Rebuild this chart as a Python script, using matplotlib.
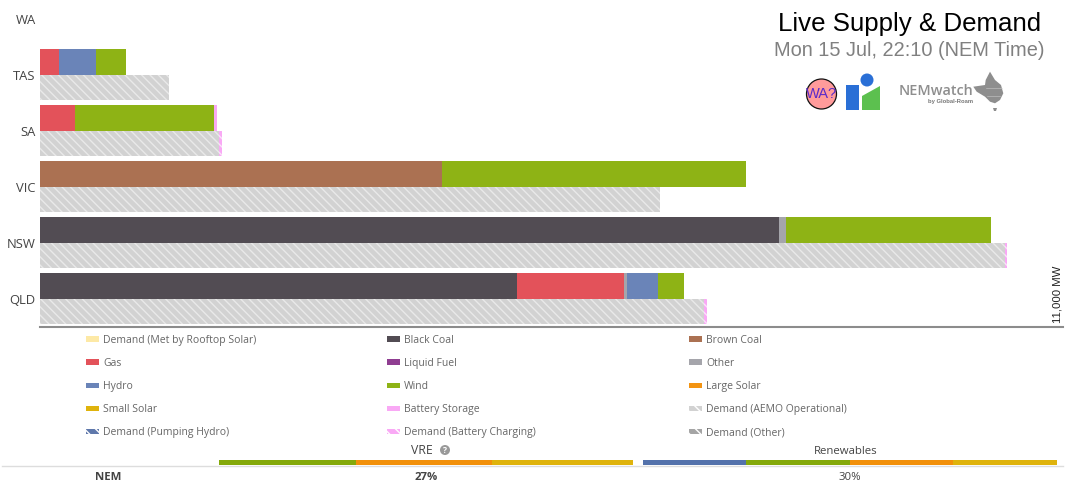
import matplotlib
matplotlib.use("Agg")
import matplotlib.pyplot as plt
from matplotlib.patches import Patch, Rectangle, Circle, Polygon

W, H = 1071, 492
plt.rcParams['font.family'] = ['Open Sans', 'DejaVu Sans']
plt.rcParams['hatch.linewidth'] = 1.0

regions = ['QLD', 'NSW', 'VIC', 'SA', 'TAS', 'WA']
black_coal = [5130, 7950, 0, 0, 0, 0]
brown_coal = [0, 0, 4323, 0, 0, 0]
gas = [1150, 0, 0, 376, 204, 0]
other = [32, 75, 0, 0, 0, 0]
hydro = [333, 0, 0, 0, 398, 0]
wind = [280, 2204, 3269, 1495, 323, 0]
battery = [0, 0, 0, 32, 0, 0]
demand_operational = [7140, 10376, 6667, 1925, 1387, 0]
demand_charging = [32, 22, 0, 32, 0, 0]

COL = {
    'rooftop': '#fde9a6', 'black': '#524c53', 'brown': '#ab7152', 'gas': '#e3525a',
    'liquid': '#8f3d91', 'other': '#a5a5ab', 'hydro': '#6a84b8', 'wind': '#8eb315',
    'lsolar': '#f39412', 'ssolar': '#dfb30c', 'battery': '#f9a9f5', 'demand': '#d2d2d2',
    'pump': '#5f78ab', 'charge': '#f9a9f5', 'dother': '#a5a5a5',
}

fig = plt.figure(figsize=(W / 100, H / 100), dpi=100, facecolor='white')
def px_axes(x0, x1, y_top, y_bot, **kw):
    return fig.add_axes([x0 / W, 1 - y_bot / H, (x1 - x0) / W, (y_bot - y_top) / H], **kw)

ax = px_axes(40, 1063, 0, 327)
ax.set_xlim(0, 11000)
ax.set_ylim(-0.5, 327 / 56 - 0.5)
h = 25.5 / 56
nudge = 0.5 / 56
y_sup = [i + h / 2 + nudge for i in range(6)]
y_dem = [i - h / 2 + nudge for i in range(6)]

left = [0] * 6
for vals, key in [(black_coal, 'black'), (brown_coal, 'brown'), (gas, 'gas'), (other, 'other'),
                  (hydro, 'hydro'), (wind, 'wind'), (battery, 'battery')]:
    ax.barh(y_sup, vals, height=h, left=left, color=COL[key], linewidth=0)
    left = [a + b for a, b in zip(left, vals)]

ax.barh(y_dem, demand_operational, height=h, color=COL['demand'], edgecolor='#e9e9e9',
        hatch='\\\\\\\\', linewidth=0)
ax.barh(y_dem, demand_charging, height=h, left=demand_operational, color=COL['charge'],
        edgecolor='#fbe3fa', hatch='\\\\\\\\', linewidth=0)

ax.set_yticks(range(6), regions, fontsize=9.4, color='#444444')
ax.set_xticks([])
ax.tick_params(axis='y', length=0, pad=3)
for s in ['top', 'right', 'left']:
    ax.spines[s].set_visible(False)
ax.spines['bottom'].set_color('#8c8c8c')
ax.spines['bottom'].set_linewidth(1.5)
ax.patch.set_alpha(0)
ax.text(1, 0.012, '11,000 MW', transform=ax.transAxes, rotation=90, ha='right', va='bottom',
        fontsize=8.2, color='#222222', family=['Liberation Sans'])

# overlay in picture pixels for titles, logos and the summary strip
ov = px_axes(0, W, 0, H)
ov.set_xlim(0, W)
ov.set_ylim(H, 0)
ov.axis('off')
ov.patch.set_alpha(0)

ov.text(909.5, 24.5, 'Live Supply & Demand', ha='center', va='center', fontsize=18.6,
        family=['Liberation Sans'], color='#000000')
ov.text(909.5, 50, 'Mon 15 Jul, 22:10 (NEM Time)', ha='center', va='center', fontsize=14.4,
        family=['Liberation Sans'], color='#808080')

# logos
ov.add_patch(Circle((821.5, 94), 15, fc='#ff9b9b', ec='#111111', lw=0.9))
ov.text(821.5, 94, 'WA?', ha='center', va='center', fontsize=10.5, color='#5a2bc9', family=['Liberation Sans'])
ov.add_patch(Rectangle((846, 85), 13, 25, fc='#2a6fd6', lw=0))
ov.add_patch(Circle((867, 80), 6.5, fc='#2a6fd6', lw=0))
ov.add_patch(Polygon([(862, 110), (862, 96), (880, 86), (880, 110)], fc='#5cc04f', lw=0))
ov.text(899, 91, 'NEMwatch', ha='left', va='center', fontsize=10.4, color='#8e8e8e',
        fontweight='semibold', stretch='condensed')
ov.text(950.5, 102, 'by Global-Roam', ha='center', va='center', fontsize=4.2, color='#777777',
        family=['Liberation Sans'], fontweight='bold')
ov.add_patch(Polygon([(973.3, 86.7), (985, 85), (985.7, 80), (990, 71.7), (995, 80), (1001, 85),
                      (1003.3, 93.3), (1000, 100), (995, 103.3), (990, 101.7), (985, 96.7),
                      (976.7, 91.7)], fc='#8e8e8e', lw=0))
ov.plot([986, 1002], [88, 88], color='#c8c8c8', lw=0.4)
ov.plot([987, 1000], [96, 96], color='#c8c8c8', lw=0.4)
ov.add_patch(Polygon([(993, 108), (997, 108), (996, 111), (994, 111)], fc='#8e8e8e', lw=0))

# legend, three columns
legend_cols = [
    (['Demand (Met by Rooftop Solar)', 'Gas', 'Hydro', 'Small Solar', 'Demand (Pumping Hydro)'],
     ['rooftop', 'gas', 'hydro', 'ssolar', 'pump'], 86),
    (['Black Coal', 'Liquid Fuel', 'Wind', 'Battery Storage', 'Demand (Battery Charging)'],
     ['black', 'liquid', 'wind', 'battery', 'charge'], 387),
    (['Brown Coal', 'Other', 'Large Solar', 'Demand (AEMO Operational)', 'Demand (Other)'],
     ['brown', 'other', 'lsolar', 'demand', 'dother'], 689),
]
hatched = {'pump', 'charge', 'demand', 'dother'}
fs = 7.45
fpx = fs * 100 / 72
for labels, keys, x in legend_cols:
    handles = []
    for lab, k in zip(labels, keys):
        handles.append(Patch(fc=COL[k], ec='white' if k in hatched else COL[k], lw=0,
                             hatch='\\\\\\' if k in hatched else None, label=lab))
    leg = ov.legend(handles=handles, loc='upper left', bbox_to_anchor=(x, 334.7),
                    bbox_transform=ov.transData, frameon=False, fontsize=fs, ncol=1,
                    borderaxespad=0, borderpad=0, handlelength=13 / fpx, handleheight=0.45,
                    handletextpad=4 / fpx, labelspacing=(22.5 - fpx) / fpx, labelcolor='#666666')
    ov.add_artist(leg)
    ov.legend_ = None

# summary strip
vre_segments = [137, 136, 141]
vre_keys = ['wind', 'lsolar', 'ssolar']
ren_segments = [103, 104, 103, 104]
ren_keys = ['pump', 'wind', 'lsolar', 'ssolar']
ov.plot([2, 1063], [466, 466], color='#dddddd', lw=1)
for segs, keys, x0 in [(vre_segments, vre_keys, 219), (ren_segments, ren_keys, 643)]:
    x = x0
    for s, k in zip(segs, keys):
        c = {'wind': '#84a90a', 'lsolar': '#f2900a', 'ssolar': '#dfb30c', 'pump': '#5472ab'}[k]
        ov.add_patch(Rectangle((x, 460), s, 5, fc=c, lw=0))
        x += s
ov.text(421.5, 451, 'VRE', ha='center', va='center', fontsize=8.8, color='#444444')
ov.add_patch(Circle((445, 450), 5, fc='#999999', lw=0))
ov.text(445, 450.3, '?', ha='center', va='center', fontsize=6, color='white', fontweight='bold')
ov.text(845.5, 451, 'Renewables', ha='center', va='center', fontsize=8.2, color='#444444')
ov.text(108, 477.5, 'NEM', ha='center', va='center', fontsize=8.2, color='#444444', fontweight='bold')
ov.text(426.5, 477.5, '27%', ha='center', va='center', fontsize=8.2, color='#444444', fontweight='bold')
ov.text(850, 477.5, '30%', ha='center', va='center', fontsize=8.2, color='#444444')

fig.savefig('out.png', dpi=100, facecolor='white')
